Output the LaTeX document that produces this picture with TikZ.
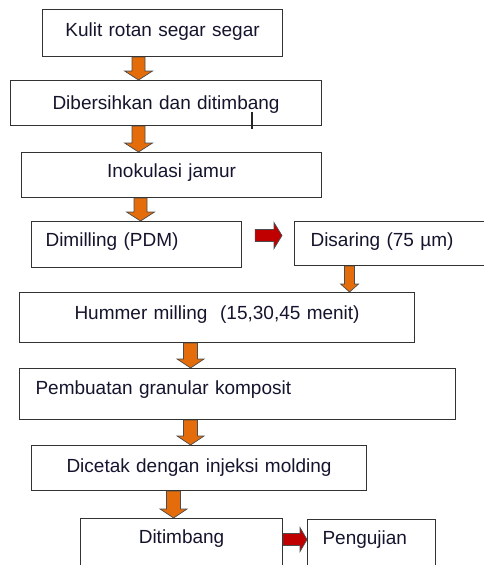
\documentclass[tikz,border=0pt]{standalone}
\usepackage{fontspec}
\setmainfont{Liberation Sans}
\usetikzlibrary{calc}

\definecolor{arroworange}{RGB}{228,108,10}
\definecolor{arrowred}{RGB}{192,0,0}
\definecolor{boxtext}{RGB}{20,20,45}

\tikzset{
  stepbox/.style={draw=black!80, line width=1.1pt, anchor=north west, inner xsep=0pt,
    text height=13.6pt, font=\fontsize{19}{22}\selectfont, text=boxtext, align=center},
  downarrow/.style n args={3}{draw=black!70, fill=arroworange, line width=0.7pt,
    to path={let \p1=(\tikztostart), \p2=(\tikztotarget) in
      (\x1-#1,\y1) -- (\x1-#1,\y2+#3) -- (\x1-#2,\y2+#3) -- (\x1,\y2)
      -- (\x1+#2,\y2+#3) -- (\x1+#1,\y2+#3) -- (\x1+#1,\y1) -- cycle}},
  rightarrow/.style n args={3}{draw=black!70, fill=arrowred, line width=0.7pt,
    to path={let \p1=(\tikztostart), \p2=(\tikztotarget) in
      (\x1,\y1+#1) -- (\x2-#3,\y1+#1) -- (\x2-#3,\y1+#2) -- (\x2,\y1)
      -- (\x2-#3,\y1-#2) -- (\x2-#3,\y1-#1) -- (\x1,\y1-#1) -- cycle}}
}

\begin{document}
\begin{tikzpicture}[x=1pt, y=-1pt]
    \path[use as bounding box, clip] (0,0) rectangle (484,565);

    \node[stepbox, text width=240pt, inner ysep=13pt, text depth=7.4pt] (kulit) at (42,9) {Kulit rotan segar segar};
    \node[stepbox, text width=311pt, inner ysep=15pt, text depth=1.4pt] (bersih) at (10,80) {Dibersihkan dan ditimbang};
    \node[stepbox, text width=300pt, inner ysep=11pt, text depth=9.4pt] (ino) at (21,152) {Inokulasi jamur};
    \node[stepbox, inner xsep=14pt, text width=182pt, align=left, inner ysep=11pt, text depth=10.4pt] (dimil) at (31,221) {Dimilling (PDM)};
    \node[stepbox, inner xsep=16pt, text width=168pt, align=left, inner ysep=11pt, text depth=8.4pt] (disar) at (294,221) {Disaring (75 µm)};
    \node[stepbox, text width=395pt, inner ysep=13pt, text depth=10.4pt] (hummer) at (19,292) {Hummer milling~ (15,30,45 menit)};
    \node[stepbox, inner xsep=16pt, text width=404pt, align=left, inner ysep=12pt, text depth=13.4pt] (granular) at (19,368) {Pembuatan granular komposit};
    \node[stepbox, text width=335pt, inner ysep=13pt, text depth=5.4pt] (cetak) at (31,445) {Dicetak dengan injeksi molding};
    \node[stepbox, text width=202pt, inner ysep=11pt, text depth=24.4pt] (timbang) at (80,518) {Ditimbang};
    \node[stepbox, inner xsep=15pt, text width=98pt, align=left, inner ysep=11pt, text depth=24.4pt] (uji) at (307,519) {Pengujian};

    % stray mark under the second box
    \draw[line width=1.6pt, black!85] (252,112) -- (252,129);

    \draw[downarrow={6.5pt}{14pt}{9pt}] ([xshift=-24pt]kulit.south) to (bersih.north);
    \draw[downarrow={6.5pt}{14pt}{9pt}] ([xshift=-27.5pt]bersih.south) to (ino.north);
    \draw[downarrow={6.5pt}{14pt}{9pt}] ([xshift=-31pt]ino.south) to (dimil.north);
    \draw[rightarrow={6pt}{13pt}{8pt}] ([xshift=13pt, yshift=9pt]dimil.east) to ([xshift=-12pt]disar.west);
    \draw[downarrow={5pt}{9pt}{8pt}] ([xshift=-45pt]disar.south) to (hummer.north);
    \draw[downarrow={7pt}{13.5pt}{9pt}] ([xshift=-26.5pt]hummer.south) to (granular.north);
    \draw[downarrow={7pt}{13.5pt}{9pt}] ([xshift=-47pt]granular.south) to (cetak.north);
    \draw[downarrow={7pt}{13.5pt}{9pt}] ([xshift=-25.5pt]cetak.south) to (timbang.north);
    \draw[rightarrow={6pt}{12pt}{7pt}] ([yshift=9pt]timbang.east) to (uji.west);
\end{tikzpicture}
\end{document}
